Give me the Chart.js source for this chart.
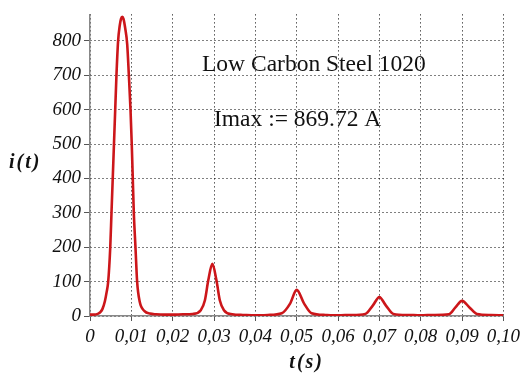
<!DOCTYPE html>
<html>
<head>
<meta charset="utf-8">
<script src="https://cdn.jsdelivr.net/npm/chart.js@4/dist/chart.umd.min.js"></script>
<style>
html,body{margin:0;padding:0;background:#fff;}
canvas{display:block;}
</style>
</head>
<body>
<canvas id="c" width="525" height="374"></canvas>
<script>
const tData = [0,0.001,0.002,0.0025,0.003,0.0036,0.004,0.0044,0.0049,0.0052,0.0055,0.0058,0.0061,0.0064,0.0068,0.0072,0.0075,0.0078,0.0081,0.0085,0.009,0.0094,0.0098,0.0101,0.0103,0.0106,0.011,0.0114,0.012,0.0132,0.0145,0.016,0.018,0.020,0.0225,0.0248,0.0268,0.0278,0.0286,0.0296,0.0306,0.0314,0.0324,0.0344,0.037,0.040,0.043,0.0464,0.0484,0.050,0.0518,0.0536,0.057,0.060,0.063,0.0666,0.0684,0.070,0.0716,0.0734,0.077,0.080,0.083,0.0868,0.0884,0.090,0.0918,0.0936,0.097,0.100];
const iData = [4,4,7,11,20,43,68,100,200,300,400,500,600,700,800,845,864,870,864,838,790,700,600,500,420,300,200,100,43,14,7,5,4,4,5,6,17,46,103,152,103,46,17,5,3,2,3,8,36,76,36,8,3,2,3,6,30,55,30,6,3,2,3,5,25,44,25,6,3,2];
const xTicks = [0,0.01,0.02,0.03,0.04,0.05,0.06,0.07,0.08,0.09,0.10];
const xLabels = ["0","0,01","0,02","0,03","0,04","0,05","0,06","0,07","0,08","0,09","0,10"];
const yTicks = [0,100,200,300,400,500,600,700,800];
const yLabels = ["0","100","200","300","400","500","600","700","800"];
const titleText = "Low Carbon Steel 1020";
const imaxText = "Imax := 869.72 A";
const xTitle = "t(s)";
const yTitle = "i(t)";

const textPlugin = {
  id: 'texts',
  afterDraw(chart) {
    const ctx = chart.ctx;
    const a = chart.chartArea;
    ctx.save();
    ctx.fillStyle = '#111';
    ctx.textBaseline = 'alphabetic';
    ctx.textAlign = 'left';
    ctx.font = '23.5px "Liberation Serif"';
    ctx.fillText(titleText, a.left + 112, 71);
    ctx.fillText(imaxText, a.left + 124, 126);
    ctx.font = 'italic bold 20px "Liberation Serif"';
    ctx.textBaseline = 'middle';
    ctx.letterSpacing = '2px';
    ctx.fillText(yTitle, 9, 163);
    ctx.textAlign = 'center';
    ctx.fillText(xTitle, (a.left + a.right) / 2 + 10, 363);
    ctx.restore();
  }
};

new Chart(document.getElementById('c'), {
  type: 'line',
  data: {
    datasets: [{
      data: tData.map((t, k) => ({x: t, y: iData[k]})),
      borderColor: 'rgb(204,22,26)',
      borderWidth: 2.6,
      pointRadius: 0,
      fill: false,
      cubicInterpolationMode: 'monotone'
    }]
  },
  options: {
    responsive: false,
    animation: false,
    devicePixelRatio: 1,
    layout: {padding: {left: 0, right: 18, top: 10, bottom: 0}},
    plugins: {legend: {display: false}, tooltip: {enabled: false}},
    scales: {
      x: {
        type: 'linear',
        min: 0, max: 0.1,
        afterBuildTicks(s) { s.ticks = xTicks.map(v => ({value: v})); },
        afterFit(s) { s.height = 58; },
        ticks: {
          autoSkip: false, maxRotation: 0, padding: 5,
          color: '#111',
          font: {family: 'Liberation Serif', style: 'italic', size: 19},
          callback: (v, i) => xLabels[i]
        },
        grid: {color: '#000', lineWidth: 1, tickLength: 5, tickColor: '#555'},
        border: {display: true, color: '#888', width: 1.5, dash: [1, 3]}
      },
      y: {
        min: 0, max: 877,
        afterBuildTicks(s) { s.ticks = yTicks.map(v => ({value: v})); },
        afterFit(s) { s.width = 90; },
        ticks: {
          autoSkip: false, padding: 3,
          color: '#111',
          font: {family: 'Liberation Serif', style: 'italic', size: 19},
          callback: (v, i) => yLabels[i]
        },
        grid: {color: '#000', lineWidth: 1, tickLength: 6, tickColor: '#555'},
        border: {display: true, color: '#888', width: 1.5, dash: [1, 3]}
      }
    }
  },
  plugins: [textPlugin]
});
</script>
</body>
</html>
